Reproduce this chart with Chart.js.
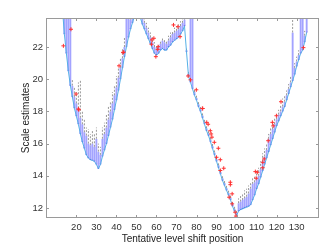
<!DOCTYPE html>
<html>
<head>
<meta charset="utf-8">
<script src="https://cdn.jsdelivr.net/npm/chart.js@4"></script>
<style>
  html, body { margin: 0; padding: 0; background: #fff; }
  #wrap { width: 324px; height: 245px; }
</style>
</head>
<body>
<div id="wrap"><canvas id="chart" width="324" height="245"></canvas></div>
<script>
const firstPosition = 11;
const positions = Array.from({ length: 125 }, (_, i) => firstPosition + i);

const curve = [
  27.5, 26.0, 24.4, 22.8, 21.6, 20.5, 19.6, 18.9, 18.2, 17.7,
  17.2, 16.6, 16.1, 15.7, 15.3, 15.1, 15.0, 14.95, 14.9, 14.7,
  14.45, 14.7, 15.2, 15.6, 16.0, 16.5, 17.0, 17.5, 18.1, 18.7,
  19.3, 20.0, 20.7, 21.4, 22.0, 22.6, 23.1, 23.5, 23.9, 24.2,
  24.2, 23.8, 23.4, 23.1, 22.8, 22.5, 22.2, 21.9, 21.6, 21.5,
  21.6, 21.8, 21.9, 21.8, 21.8, 22.0, 22.1, 22.3, 22.4, 22.5,
  22.6, 22.8, 23.0, 23.3, 21.7, 20.2, 19.8, 19.4, 19.0, 18.7,
  18.3, 18.0, 17.6, 17.2, 16.8, 16.5, 16.1, 15.7, 15.3, 14.9,
  14.5, 14.1, 13.7, 13.4, 13.1, 12.8, 12.5, 12.1, 11.8, 11.55,
  11.8, 11.9, 11.95, 12.0, 12.05, 12.1, 12.2, 12.5, 12.8, 13.2,
  13.5, 13.9, 14.3, 14.7, 15.1, 15.5, 15.9, 16.3, 16.7, 17.1,
  17.4, 17.7, 18.0, 18.3, 18.7, 19.1, 19.5, 19.9, 20.3, 20.8,
  21.2, 21.6, 21.8, 22.3, 22.9
];

const boxTop = [
  28, 28, 28, 28, 28, 28, 28, 19.6, 18.9, 18.5,
  18.2, 17.6, 17.2, 16.7, 16.5, 16.0, 15.9, 16.0, 15.8, 16.3,
  15.5, 15.3, 16.3, 16.6, 17.0, 17.5, 18.0, 18.5, 19.0, 19.5,
  20.1, 20.7, 21.3, 22.0, 28, 28, 23.7, 24.0, 24.3, 24.6,
  24.6, 24.1, 23.8, 23.5, 23.2, 22.9, 22.6, 22.3, 22.0, 21.9,
  22.0, 22.2, 22.4, 22.3, 22.2, 22.4, 22.6, 22.8, 22.9, 23.0,
  23.1, 23.3, 23.5, 23.7, 21.8, 20.35, 28, 28, 19.2, 18.85,
  18.45, 18.15, 17.75, 17.35, 16.95, 16.65, 16.25, 15.85, 15.45, 15.05,
  14.65, 14.25, 13.85, 13.55, 13.25, 12.95, 12.65, 12.25, 11.95, 11.7,
  12.3, 12.4, 12.5, 12.6, 12.7, 12.9, 13.2, 13.5, 13.6, 13.8,
  14.0, 14.4, 14.9, 15.2, 15.6, 16.3, 16.6, 16.9, 17.2, 17.5,
  17.8, 18.0, 18.3, 18.6, 19.0, 19.4, 19.8, 22.9, 20.7, 21.1,
  21.5, 28, 28, 22.7, 28
];

const whiskerTop = [
  28, 28, 28, 28, 28, 28, 28, 20.0, 19.5, 19.2,
  19.8, 19.9, 18.0, 17.5, 17.0, 16.9, 16.6, 16.8, 16.6, 17.0,
  16.0, 15.8, 17.0, 17.3, 17.8, 18.3, 18.6, 19.2, 19.6, 20.2,
  20.7, 21.3, 21.9, 22.6, 28, 28, 24.3, 24.6, 24.8, 25.0,
  25.0, 24.4, 24.2, 23.8, 23.5, 23.2, 22.9, 22.6, 22.3, 22.1,
  22.2, 22.4, 22.6, 22.5, 22.4, 22.7, 22.9, 23.0, 23.2, 23.3,
  23.4, 23.6, 23.8, 24.0, 21.9, 20.45, 28, 28, 19.35, 19.0,
  18.6, 18.3, 17.9, 17.5, 17.1, 16.8, 16.4, 16.0, 15.6, 15.2,
  14.8, 14.4, 14.0, 13.7, 13.4, 13.1, 12.8, 12.4, 12.1, 11.85,
  12.6, 12.8, 12.9, 13.1, 13.2, 13.4, 13.6, 13.9, 14.0, 14.3,
  14.5, 14.9, 15.4, 15.7, 16.0, 16.6, 17.0, 17.3, 17.6, 17.9,
  18.1, 18.4, 18.8, 19.0, 19.3, 19.7, 20.2, 28, 21.0, 21.4,
  21.8, 28, 28, 23.0, 28
];

const outlierX = [13.5, 17.3, 19.8, 21, 21.2, 41.3, 43.3, 43.6, 57.5, 57.7, 58.7, 60.6, 60.8, 59.7, 68.5, 70.7, 71.8, 75.8, 77, 79.9,
  82.9, 83.1, 85.1, 85.8, 86.9, 87.3, 87.7, 88.9, 90.0, 90.9, 91.9, 91.9, 93.6, 96.3, 96.9, 96.9, 97.8, 97.8, 99.3, 99.7,
  109.4, 109.8, 110.4, 113.1, 113.1, 113.8, 115.8, 117.9, 118.3, 119.9, 122.2, 133.4];
const outlierY = [22.07, 23.1, 19.08, 18.15, 18.1, 20.83, 21.65, 21.68, 22.17, 22.44, 22.54, 21.85, 22.02, 21.4, 23.37, 23.26, 22.64, 20.2, 19.96, 19.34,
  18.18, 18.18, 17.32, 17.2, 16.8, 16.6, 16.4, 16.08, 15.15, 15.71, 15.0, 14.33, 14.47, 12.67, 13.6, 13.45, 12.88, 12.26, 11.74, 11.5,
  14.26, 13.85, 14.22, 14.84, 14.5, 15.05, 16.18, 17.32, 17.1, 17.73, 18.6, 21.96];

const xTicks = [20, 30, 40, 50, 60, 70, 80, 90, 100, 110, 120, 130];
const yTicks = [12, 14, 16, 18, 20, 22];

const boxes = positions.map((p, i) => ({ x: p, y: [curve[i], boxTop[i]] }));
const whiskers = [];
positions.forEach((p, i) => {
  whiskers.push({ x: p, y: boxTop[i] }, { x: p, y: whiskerTop[i] }, { x: p, y: null });
});
const line = positions.map((p, i) => ({ x: p, y: curve[i] }));
const outliers = outlierX.map((x, i) => ({ x: x, y: outlierY[i] }));

const axisBox = {
  id: "axisBox",
  afterDatasetsDraw(chart) {
    const { ctx, chartArea: a, scales } = chart;
    ctx.save();
    ctx.strokeStyle = "#9a9a9a";
    ctx.lineWidth = 1;
    ctx.strokeRect(a.left + 0.5, a.top + 0.5, a.right - a.left - 1, a.bottom - a.top - 1);
    ctx.beginPath();
    xTicks.forEach(v => {
      const px = Math.round(scales.x.getPixelForValue(v)) + 0.5;
      ctx.moveTo(px, a.bottom); ctx.lineTo(px, a.bottom - 3);
      ctx.moveTo(px, a.top); ctx.lineTo(px, a.top + 3);
    });
    yTicks.forEach(v => {
      const py = Math.round(scales.y.getPixelForValue(v)) + 0.5;
      ctx.moveTo(a.left, py); ctx.lineTo(a.left + 3, py);
      ctx.moveTo(a.right, py); ctx.lineTo(a.right - 3, py);
    });
    ctx.stroke();
    ctx.restore();
  }
};

const ctx = document.getElementById("chart");
new Chart(ctx, {
  type: "bar",
  data: {
    datasets: [
      {
        type: "bar",
        data: boxes,
        backgroundColor: "#a3a3ff",
        borderColor: "#4a4ae6",
        borderWidth: { top: 0, bottom: 1, left: 0, right: 0 },
        borderSkipped: false,
        barPercentage: 1,
        categoryPercentage: 1,
        order: 4
      },
      {
        type: "line",
        data: whiskers,
        borderColor: "#999999",
        borderWidth: 1,
        borderDash: [2, 1.5],
        pointRadius: 0,
        spanGaps: false,
        order: 3
      },
      {
        type: "line",
        data: line,
        borderColor: "#55b0e6",
        borderWidth: 1,
        pointRadius: 0,
        order: 2
      },
      {
        type: "line",
        data: outliers,
        showLine: false,
        pointStyle: "cross",
        pointRadius: 2,
        borderColor: "#ff3030",
        borderWidth: 1,
        order: 1
      }
    ]
  },
  options: {
    responsive: false,
    animation: false,
    layout: { padding: { top: 18, right: 1, left: 0, bottom: 0 } },
    plugins: { legend: { display: false }, tooltip: { enabled: false } },
    scales: {
      x: {
        type: "linear",
        min: 10.5,
        max: 135.5,
        grid: { display: false, drawTicks: false },
        border: { display: false },
        afterBuildTicks: scale => { scale.ticks = xTicks.map(v => ({ value: v })); },
        afterFit: scale => { scale.height = 27; },
        ticks: { padding: 4, color: "#333", font: { family: "Liberation Sans", size: 9.5 }, maxRotation: 0 },
        title: { display: true, text: "Tentative level shift position", color: "#222", padding: 0, font: { family: "Liberation Sans", size: 10 } }
      },
      y: {
        min: 11.38,
        max: 23.8,
        grid: { display: false, drawTicks: false },
        border: { display: false },
        afterBuildTicks: scale => { scale.ticks = yTicks.map(v => ({ value: v })); },
        afterFit: scale => { scale.width = 46; },
        ticks: { padding: 3, color: "#333", font: { family: "Liberation Sans", size: 9.5 } },
        title: { display: true, text: "Scale estimates", color: "#222", padding: { top: 20 }, font: { family: "Liberation Sans", size: 10 } }
      }
    }
  },
  plugins: [axisBox]
});
</script>
</body>
</html>
